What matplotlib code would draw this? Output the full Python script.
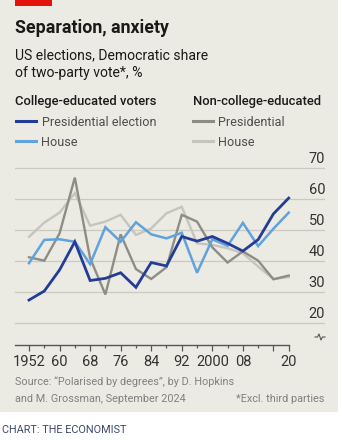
import matplotlib
matplotlib.use("Agg")
import matplotlib.pyplot as plt
from matplotlib.lines import Line2D
from matplotlib.patches import Rectangle
import matplotlib.transforms as mtransforms

plt.rcParams['font.family'] = ['Roboto', 'DejaVu Sans']

years = list(range(1952, 2021, 4))
college_pres = [27.5, 30.4, 37.2, 46.3, 33.8, 34.5, 36.3, 31.6, 39.6, 38.5,
                48.0, 46.5, 48.0, 45.8, 43.3, 47.0, 55.3, 60.4]
college_house = [39.4, 46.9, 47.1, 46.3, 39.1, 51.0, 46.3, 52.6, 48.7, 47.4,
                 49.2, 36.3, 47.1, 45.0, 52.4, 44.9, 50.5, 55.7]
noncollege_pres = [41.3, 40.2, 49.0, 67.0, 41.0, 29.3, 48.7, 37.5, 34.3, 38.1,
                   55.0, 52.8, 44.5, 39.6, 43.2, 40.2, 34.2, 35.4]
noncollege_house = [47.9, 52.5, 55.7, 62.0, 51.5, 52.8, 55.0, 48.5, 50.6, 55.5,
                    57.6, 45.8, 45.3, 44.2, 42.6, 38.3, 34.3, 34.9]

y_ticks = [20, 30, 40, 50, 60, 70]
x_tick_labels = {1952: "1952", 1960: "60", 1968: "68", 1976: "76", 1984: "84",
                 1992: "92", 2000: "2000", 2008: "08", 2020: "20"}

BG = "#ECEBE3"
DARK_BLUE = "#233C96"
LIGHT_BLUE = "#5FA2DD"
DARK_GRAY = "#8D8D86"
LIGHT_GRAY = "#C6C5BD"
GRID = "#CBCAC2"
TXT = "#1A1A1A"
SUB = "#4D4D4D"

W, H = 342, 440
fig = plt.figure(figsize=(W / 100, H / 100), dpi=100)
fig.patch.set_facecolor("white")

def fx(x):
    return x / W

def fy(y):
    return 1 - y / H

# panel background
fig.add_artist(Rectangle((0, fy(412)), fx(338), 1 - fy(412), transform=fig.transFigure,
                         facecolor=BG, edgecolor="none", zorder=-5))
# red bar
fig.add_artist(Rectangle((fx(15), fy(6)), fx(37), 6 / H, transform=fig.transFigure,
                         facecolor="#E3120B", edgecolor="none", zorder=-4))

# axes
left_px, right_px, top_px, bot_px = 15, 325, 150, 345
ax = fig.add_axes([fx(left_px), fy(bot_px), fx(right_px - left_px), (bot_px - top_px) / H])
ax.set_zorder(2)
ax.set_facecolor("none")
px_per_year = (288.7 - 29) / 68
x0 = 1952 - (29 - left_px) / px_per_year
x1 = 1952 + (right_px - 29) / px_per_year
px_per_unit = 3.1
y_top = 70 + (168.3 - top_px) / px_per_unit
y_bot = 70 - (bot_px - 168.3) / px_per_unit
ax.set_xlim(x0, x1)
ax.set_ylim(y_bot, y_top)

blend = mtransforms.blended_transform_factory(ax.transAxes, ax.transData)
for v in y_ticks:
    ax.axhline(v, color=GRID, lw=0.9, zorder=1)
    ax.text(1.0, v + 0.7, str(v), transform=blend,
            ha="right", va="bottom", fontsize=10.5, color="#333333")

ax.plot(years, noncollege_house, color=LIGHT_GRAY, lw=1.7, zorder=2, solid_joinstyle="miter")
ax.plot(years, noncollege_pres, color=DARK_GRAY, lw=1.7, zorder=3, solid_joinstyle="miter")
ax.plot(years, college_house, color=LIGHT_BLUE, lw=1.8, zorder=4, solid_joinstyle="miter")
ax.plot(years, college_pres, color=DARK_BLUE, lw=2.0, zorder=5, solid_joinstyle="miter")

for s in ["top", "right", "left"]:
    ax.spines[s].set_visible(False)
ax.spines["bottom"].set_bounds(x0, 2020)
ax.spines["bottom"].set_color("#555555")
ax.spines["bottom"].set_linewidth(1.0)
ax.set_yticks([])
ax.set_xticks(years)
ax.set_xticklabels([x_tick_labels.get(y, "") for y in years], fontsize=10.5, color="#333333")
ax.tick_params(axis="x", direction="out", length=4, width=0.9, color="#555555", pad=3)
for y, tk in zip(years, ax.xaxis.get_major_ticks()):
    if y not in x_tick_labels and y != 2016:
        tk.tick1line.set_markersize(2.5)

# axis break symbol
bx, by = 320, 337
xs = [bx - 5, bx - 2.5, bx - 1, bx + 1, bx + 2.5, bx + 5]
ys = [by, by, by - 3, by + 3, by, by]
fig.add_artist(Line2D([fx(x) for x in xs], [fy(y) for y in ys], transform=fig.transFigure,
                      color="#555555", lw=0.8))

# titles
fig.text(fx(15), fy(33), "Separation, anxiety", fontsize=12.8, fontweight="bold", color=TXT)
fig.text(fx(15), fy(59), "US elections, Democratic share", fontsize=10.1, color=TXT)
fig.text(fx(15), fy(77), "of two-party vote*, %", fontsize=10.1, color=TXT)

# legend
fig.text(fx(15), fy(105), "College-educated voters", fontsize=9.4, fontweight="medium", color=TXT)
fig.text(fx(193), fy(105), "Non-college-educated", fontsize=9.4, fontweight="medium", color=TXT)
items = [
    (16, 121, DARK_BLUE, "Presidential election"),
    (16, 141, LIGHT_BLUE, "House"),
    (193, 121, DARK_GRAY, "Presidential"),
    (193, 141, LIGHT_GRAY, "House"),
]
for x, y, c, label in items:
    fig.add_artist(Line2D([fx(x), fx(x + 20)], [fy(y), fy(y)], transform=fig.transFigure,
                          color=c, lw=2.2))
    fig.text(fx(x + 25.5), fy(y + 5), label, fontsize=9.1, color=SUB)

# footer
fig.text(fx(15), fy(385), "Source: \u201cPolarised by degrees\u201d, by D. Hopkins", fontsize=7.8, color="#808080")
fig.text(fx(15), fy(402), "and M. Grossman, September 2024", fontsize=7.8, color="#808080")
fig.text(fx(324), fy(402), "*Excl. third parties", fontsize=7.8, color="#808080", ha="right")
fig.text(fx(2), fy(433), "CHART: THE ECONOMIST", fontsize=7.8, color="#3C4A6B")

fig.savefig("out.png", dpi=100)
